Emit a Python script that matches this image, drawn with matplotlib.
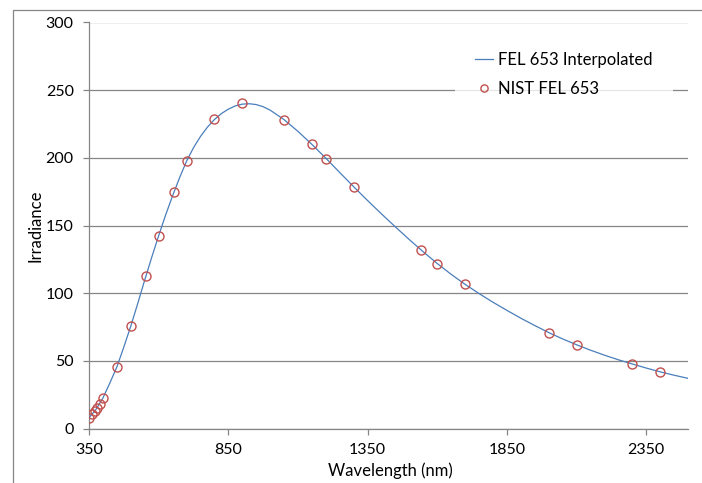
"""FEL 653 lamp spectral irradiance: NIST calibration points and interpolated curve."""

import matplotlib
matplotlib.use("Agg")
import matplotlib.pyplot as plt
from matplotlib.patches import Rectangle

# NIST calibration points
nist_wavelength = [350, 360, 370, 380, 390, 400, 450, 500, 555, 600, 654.6, 700,
                   800, 900, 1050, 1150, 1200, 1300, 1540, 1600, 1700, 2000,
                   2100, 2300, 2400]
nist_irradiance = [8.1, 10.5, 13.2, 15.3, 18.2, 22.7, 45.6, 75.8, 112.8, 142.5,
                   175.0, 197.5, 228.5, 240.5, 228.0, 210.0, 199.5, 178.7, 132.0,
                   122.0, 106.6, 71.0, 62.0, 47.8, 42.0]

# Interpolated curve
interp_wavelength = [350, 375, 400, 425, 450, 475, 500, 525, 550, 575, 600, 625,
                     650, 675, 700, 725, 750, 775, 800, 825, 850, 875, 900, 925,
                     950, 975, 1000, 1050, 1100, 1150, 1200, 1250, 1300, 1350,
                     1400, 1450, 1500, 1550, 1600, 1650, 1700, 1750, 1800, 1850,
                     1900, 1950, 2000, 2050, 2100, 2150, 2200, 2250, 2300, 2350,
                     2400, 2450, 2500]
interp_irradiance = [8.1, 14.2, 22.7, 33.8, 45.6, 60.3, 75.8, 92.5, 109.8, 126.5,
                     142.5, 157.8, 172.0, 185.3, 197.5, 207.5, 215.8, 222.7, 228.3,
                     232.7, 236.0, 238.4, 239.7, 240.0, 239.4, 237.8, 235.3, 228.3,
                     219.6, 210.0, 199.8, 189.2, 178.7, 168.5, 158.6, 149.0, 139.6,
                     130.6, 122.0, 114.0, 106.6, 99.8, 93.4, 87.4, 81.6, 76.2, 71.0,
                     66.3, 62.0, 58.0, 54.3, 50.9, 47.8, 44.8, 42.0, 39.5, 37.2]

x_ticks = [350, 850, 1350, 1850, 2350]
y_ticks = [0, 50, 100, 150, 200, 250, 300]

W, H = 702, 483
GRAY = "#868686"

plt.rcParams["font.family"] = ["Lato", "DejaVu Sans"]
plt.rcParams["font.size"] = 11

fig = plt.figure(figsize=(W / 100, H / 100), dpi=100)
ax = fig.add_axes([89 / W, 1 - 428.7 / H, (688 - 89) / W, (428.7 - 22.5) / H])

# chart area border
fig.add_artist(Rectangle((13 / W, -0.05), 1.2, 1 - 10 / H + 0.05,
                         transform=fig.transFigure, fill=False,
                         edgecolor=GRAY, linewidth=0.9))

ax.plot(interp_wavelength, interp_irradiance, color="#4a7ebb", linewidth=0.9,
        label="FEL 653 Interpolated", zorder=3)
ax.plot(nist_wavelength, nist_irradiance, linestyle="none", marker="o",
        markersize=6.5, markerfacecolor="none", markeredgecolor="#c0504d",
        markeredgewidth=1.0, label="NIST FEL 653", zorder=4)

ax.set_xlim(350, 2500)
ax.set_ylim(0, 300)
ax.set_xticks(x_ticks)
ax.set_yticks(y_ticks)
ax.yaxis.grid(True, color=GRAY, linewidth=0.9)
ax.set_axisbelow(True)

for side in ("top", "right"):
    ax.spines[side].set_visible(False)
for side in ("left", "bottom"):
    ax.spines[side].set_color(GRAY)
    ax.spines[side].set_linewidth(0.9)

ax.tick_params(axis="both", direction="out", length=4, width=0.9, color=GRAY,
               labelsize=11.5)
ax.tick_params(axis="y", pad=7)
ax.tick_params(axis="x", pad=6)

fig.text(35 / W, 1 - 226 / H, "Irradiance", rotation=90, ha="center",
         va="center", fontsize=12)
fig.text(390 / W, 1 - 471 / H, "Wavelength (nm)", ha="center", va="center",
         fontsize=12)

leg = ax.legend(loc="upper left", bbox_to_anchor=(455 / W, 1 - 32 / H),
                bbox_transform=fig.transFigure, borderaxespad=0, borderpad=1.2,
                handlelength=1.1, handletextpad=0.3, labelspacing=0.8,
                numpoints=1, markerscale=0.8, fontsize=12, frameon=True,
                fancybox=False)
leg.get_frame().set_facecolor("white")
leg.get_frame().set_edgecolor("none")

fig.savefig("out.png", dpi=100)
